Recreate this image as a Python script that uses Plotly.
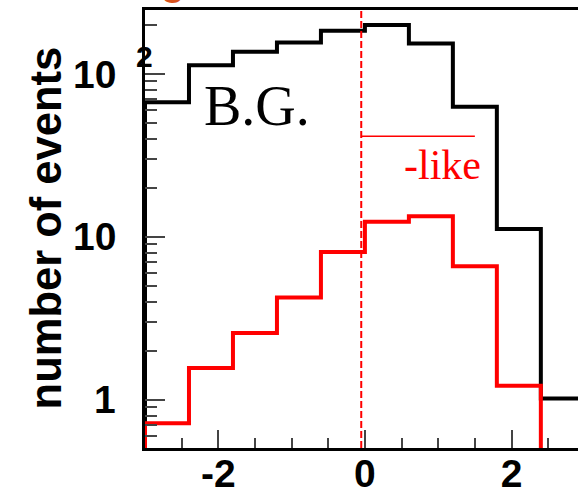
import numpy as np
import plotly.graph_objects as go

# Histogram binning (0.6 wide bins from -3 to 3)
bin_edges = [-3.0, -2.4, -1.8, -1.2, -0.6, 0.0, 0.6, 1.2, 1.8, 2.4, 3.0]

# Background events per bin
bg_counts = [67, 113, 137, 156, 184, 200, 154, 63, 11.2, 1.02]

# nu_e-like events per bin
sig_counts = [0.72, 1.57, 2.57, 4.25, 8.1, 12.4, 13.4, 6.6, 1.22, 0]

# Axis ticks and their labels
x_major = [-2, 0, 2]
x_major_text = ["-2", "0", "2"]
y_major = [1, 10, 100]
y_major_text = ["1", "10", "10"]
y_minor = [0.6, 0.7, 0.8, 0.9, 2, 3, 4, 5, 6, 7, 8, 9,
           20, 30, 40, 50, 60, 70, 80, 90, 200]

cut_value = -0.05

Y_LO, Y_HI = np.log10(0.507), np.log10(247)
X_LO, X_HI = -3.0, 2.907
FLOOR = 10 ** (Y_LO - 1)  # empty bins sit below the visible range on a log axis

SANS = "Liberation Sans, Arial, sans-serif"
SERIF = "Liberation Serif, Times New Roman, serif"


def step_xy(edges, counts):
    xs = list(edges)
    ys = [c if c > 0 else FLOOR for c in counts]
    # start from the floor at the first edge, end at the floor at the last edge
    xs = [edges[0]] + xs
    ys = [FLOOR] + ys + [FLOOR]
    return xs, ys


fig = go.Figure()

bx, by = step_xy(bin_edges, bg_counts)
fig.add_trace(go.Scatter(x=bx, y=by, mode="lines", line=dict(color="black", width=4, shape="hv"),
                         showlegend=False, hoverinfo="skip"))

sx, sy = step_xy(bin_edges, sig_counts)
fig.add_trace(go.Scatter(x=sx, y=sy, mode="lines", line=dict(color="#ff0000", width=4, shape="hv"),
                         showlegend=False, hoverinfo="skip"))

# selection cut
fig.add_shape(type="line", xref="x", yref="paper", x0=cut_value, x1=cut_value, y0=0, y1=1,
              line=dict(color="#ff0000", width=2, dash="7px,3px"), layer="above")
# overline of the nu_e label
fig.add_shape(type="line", xref="x", yref="paper", x0=cut_value, x1=1.5, y0=0.712, y1=0.712,
              line=dict(color="#ff0000", width=1.5))

ann = []
for v, t in zip(y_major, y_major_text):
    ann.append(dict(x=0, xref="paper", y=np.log10(v), yref="y", text=t, showarrow=False,
                    xanchor="right", yanchor="middle", xshift=-27,
                    font=dict(family=SANS, size=39, color="black", weight="bold")))
# exponent of 10^2
ann.append(dict(x=0, xref="paper", y=2, yref="y", text="2", showarrow=False,
                xanchor="center", yanchor="middle", xshift=-1, yshift=18,
                font=dict(family=SANS, size=30, color="black", weight="bold")))
ann.append(dict(x=-0.228, xref="paper", y=0.502, yref="paper", text="number of events",
                textangle=-90, showarrow=False, xanchor="center", yanchor="middle",
                font=dict(family=SANS, size=43.5, color="black", weight="bold")))
ann.append(dict(x=0.1317, xref="paper", y=0.781, yref="paper", text="B.G.", showarrow=False,
                xanchor="left", yanchor="middle",
                font=dict(family=SERIF, size=56, color="black")))
ann.append(dict(x=0.5935, xref="paper", y=0.646, yref="paper", text="-like", showarrow=False,
                xanchor="left", yanchor="middle",
                font=dict(family=SERIF, size=42, color="#ff0000")))
ann.append(dict(x=0.065, xref="paper", y=1.0114, yref="paper", text="g", showarrow=False,
                xanchor="center", yanchor="bottom",
                font=dict(family=SANS, size=39, color="#d9531e", weight="bold")))

fig.update_layout(
    width=578, height=495,
    margin=dict(l=145, r=0, t=10, b=47, autoexpand=False),
    paper_bgcolor="white", plot_bgcolor="white",
    annotations=ann,
    xaxis=dict(range=[X_LO, X_HI], showgrid=False, zeroline=False, automargin=False,
               showline=True, linecolor="black", linewidth=2.5, mirror=True,
               tickmode="array", tickvals=x_major, ticktext=x_major_text,
               ticks="inside", ticklen=18, tickwidth=1.5, tickcolor="#444",
               ticklabelstandoff=-11,
               minor=dict(dtick=0.5, tick0=0, ticks="inside", ticklen=10, tickwidth=1.5, tickcolor="#444"),
               tickfont=dict(family=SANS, size=39, color="black", weight="bold")),
    yaxis=dict(type="log", range=[Y_LO, Y_HI], showgrid=False, zeroline=False, automargin=False,
               showline=True, linecolor="black", linewidth=2.5, mirror=False,
               tickmode="array", tickvals=y_major, showticklabels=False,
               ticks="inside", ticklen=20, tickwidth=1.5, tickcolor="#444",
               minor=dict(tickvals=y_minor, ticks="inside", ticklen=12, tickwidth=1.5, tickcolor="#444")),
)

fig.write_html("out.html")
